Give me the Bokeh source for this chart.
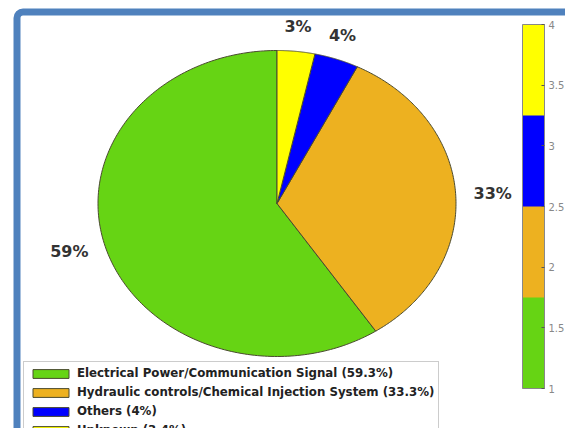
import numpy as np
from bokeh.plotting import figure
from bokeh.models import (ColumnDataSource, Range1d, Legend, LegendItem, ColorBar,
                          LinearColorMapper, FixedTicker)
from bokeh.core.properties import value
from bokeh.embed import file_html
from bokeh.resources import INLINE

# ---- data -------------------------------------------------------------
categories = ["Electrical Power/Communication Signal",
              "Hydraulic controls/Chemical Injection System",
              "Others",
              "Unknown"]
shares = [59.3, 33.3, 4.0, 3.4]
legend_shares = ["59.3%", "33.3%", "4%", "3.4%"]
colors = ["#66D414", "#EDB120", "#0000FF", "#FFFF00"]
cbar_ticks = [1, 1.5, 2, 2.5, 3, 3.5, 4]
cbar_labels = ["1", "1.5", "2", "2.5", "3", "3.5", "4"]

# ---- canvas geometry (pixels) ----------------------------------------
W, H = 565, 428
CX, CY = 276.5, 203.0      # pie centre
RX, RY = 179.0, 153.0      # pie half-axes


def px(x):
    return (x - CX) / RX


def py(y):
    return (CY - y) / RY


p = figure(width=W, height=H, output_backend="svg", toolbar_location=None,
           x_range=Range1d(px(0), px(W)), y_range=Range1d(py(H), py(0)),
           x_axis_location=None, y_axis_location=None, min_border=0,
           background_fill_color="white", border_fill_color="white")
p.grid.visible = False
p.outline_line_color = None

# blue frame around the figure
p.quad(left=px(16.5), right=px(620), top=py(11.5), bottom=py(480),
       fill_color=None, line_color="#4F81BD", line_width=7, border_radius=6)

# ---- pie wedges (counter-clockwise from 12 o'clock) -------------------
frac = np.array(shares) / np.sum(shares)
ends = np.pi / 2 + 2 * np.pi * np.cumsum(frac)
starts = ends - 2 * np.pi * frac
xs, ys = [], []
for a0, a1 in zip(starts, ends):
    t = np.linspace(a0, a1, 200)
    xs.append(np.concatenate([[0], np.cos(t), [0]]))
    ys.append(np.concatenate([[0], np.sin(t), [0]]))
src = ColumnDataSource(dict(xs=xs, ys=ys, color=colors))
pie = p.patches("xs", "ys", source=src, fill_color="color",
                line_color="#4a4a30", line_width=1)

# ---- percentage labels ------------------------------------------------
mid = (starts + ends) / 2
lx, ly, la, lb = [], [], [], []
for m in mid:
    c, s = np.cos(m), np.sin(m)
    lx.append(1.1 * c)
    ly.append(1.1 * s)
    if abs(c) > 0.5:
        la.append("left" if c > 0 else "right")
        lb.append("middle")
    else:
        la.append("center")
        lb.append("bottom" if s > 0 else "top")
lab = ColumnDataSource(dict(x=lx, y=ly, t=[f"{round(v)}%" for v in shares],
                            a=la, b=lb))
p.text("x", "y", text="t", source=lab, text_align="a", text_baseline="b",
       text_font=value("DejaVu Sans"), text_font_style="bold",
       text_font_size="16px", text_color="#333333")

# ---- legend -----------------------------------------------------------
items = [LegendItem(label=f"{c} ({s})", renderers=[pie], index=i)
         for i, (c, s) in enumerate(zip(categories, legend_shares))]
legend = Legend(items=items, location=(23, -14), orientation="vertical",
                glyph_width=45, glyph_height=11, label_height=12,
                label_standoff=4, spacing=5, padding=4, margin=0,
                label_text_font="DejaVu Sans", label_text_font_style="bold",
                label_text_font_size="11.8px", label_text_color="#222222",
                border_line_color="#999999", border_line_width=1,
                background_fill_color="white", background_fill_alpha=1.0)
p.add_layout(legend, "center")

# ---- colour bar -------------------------------------------------------
mapper = LinearColorMapper(palette=colors, low=min(cbar_ticks), high=max(cbar_ticks))
cbar = ColorBar(color_mapper=mapper, location=(522, 40), width=22, height=364,
                padding=0, margin=0, orientation="vertical",
                ticker=FixedTicker(ticks=cbar_ticks),
                major_label_overrides={t: l for t, l in zip(cbar_ticks, cbar_labels)},
                major_label_text_font="DejaVu Sans",
                major_label_text_font_size="10px",
                major_label_text_color="#888888", label_standoff=4,
                major_tick_in=3, major_tick_out=0, major_tick_line_color="#555555",
                minor_tick_line_color=None,
                bar_line_color="#888888", bar_line_width=1,
                border_line_color=None, background_fill_alpha=0)
p.add_layout(cbar, "center")

open("out.html", "w").write(file_html(p, INLINE))
